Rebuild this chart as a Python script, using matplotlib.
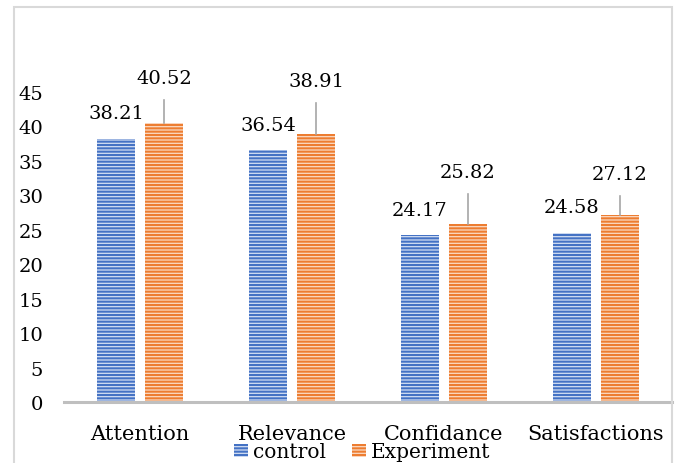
import matplotlib
matplotlib.use("Agg")
import matplotlib.pyplot as plt
import numpy as np
from matplotlib.patches import Rectangle

categories = ["Attention", "Relevance", "Confidance", "Satisfactions"]
control = [38.21, 36.54, 24.17, 24.58]
experiment = [40.52, 38.91, 25.82, 27.12]
series_names = ["control", "Experiment"]
yticks = [0, 5, 10, 15, 20, 25, 30, 35, 40, 45]

# how far the experiment labels sit above their bars (leader line fills the gap)
exp_label_lift = [6.5, 7.7, 7.6, 6.0]

BLUE, BLUE_LIGHT = "#4472C4", "#D3DEF3"
ORANGE, ORANGE_LIGHT = "#ED7D31", "#FBDAC3"

plt.rcParams["font.family"] = ["DejaVu Serif"]
plt.rcParams["hatch.linewidth"] = 1.5
FS_NUM = 14
FS_TXT = 15

fig = plt.figure(figsize=(6.79, 4.64), dpi=100)
ax = fig.add_axes([64 / 679, 1 - 403 / 464, (672 - 64) / 679, (403 - 58.5) / 464])

x = np.arange(len(categories))
w, off = 0.25, 0.158
b1 = ax.bar(x - off, control, w, facecolor=BLUE_LIGHT, edgecolor=BLUE,
            hatch="-----", linewidth=0, label=series_names[0])
b2 = ax.bar(x + off, experiment, w, facecolor=ORANGE_LIGHT, edgecolor=ORANGE,
            hatch="-----", linewidth=0, label=series_names[1])

for xi, v in zip(x, control):
    ax.text(xi - off, v + 3.7, f"{v:.2f}", ha="center", va="center", fontsize=FS_NUM)
for xi, v, lift in zip(x, experiment, exp_label_lift):
    ax.plot([xi + off, xi + off], [v, v + lift - 3.2], color="#A6A6A6", lw=1.2)
    ax.text(xi + off, v + lift, f"{v:.2f}", ha="center", va="center", fontsize=FS_NUM)

ax.set_xlim(-0.5, 3.5)
ax.set_ylim(0, 50)
ax.set_yticks(yticks)
ax.set_xticks(x)
ax.set_xticklabels(categories)
ax.tick_params(axis="y", length=0, pad=15, labelsize=FS_NUM)
ax.tick_params(axis="x", length=0, pad=15.5, labelsize=FS_TXT)
for side in ("top", "right", "left"):
    ax.spines[side].set_visible(False)
ax.spines["bottom"].set_color("#BFBFBF")
ax.spines["bottom"].set_linewidth(2.2)

fig.legend(handles=[b1, b2], loc="center", bbox_to_anchor=(362 / 679, 1 - 453 / 464),
           ncol=2, frameon=False, fontsize=14.5, handlelength=0.7, handleheight=0.65,
           handletextpad=0.25, columnspacing=1.3, borderpad=0)

# light outer border of the chart area
fig.patches.append(Rectangle((14 / 679, -0.05), (672 - 14) / 679, 1.05 - 8 / 464,
                             transform=fig.transFigure, fill=False,
                             edgecolor="#D9D9D9", linewidth=1.5))

fig.savefig("out.png", dpi=100)
